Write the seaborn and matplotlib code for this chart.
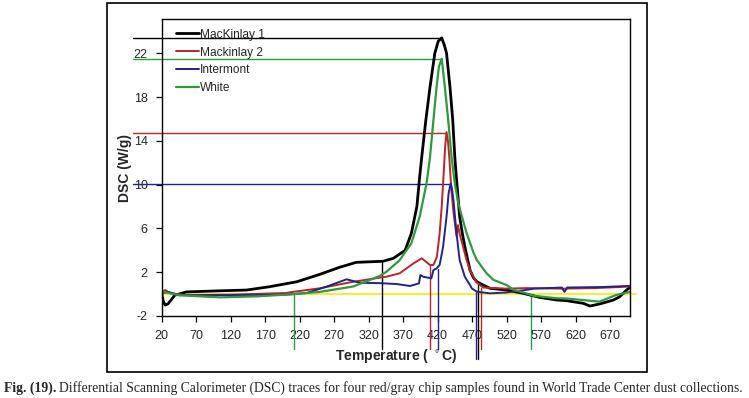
import matplotlib
matplotlib.use("Agg")
import matplotlib.pyplot as plt
import seaborn as sns
import pandas as pd
from matplotlib.patches import Rectangle

# data (temperature in C, heat flow in W/g)
mack1_t = [20, 22, 25, 29, 34, 39, 56, 104, 143, 177, 216, 249, 278, 302, 341, 356, 373,
           382, 390, 394, 397, 403, 409, 416, 421, 426, 430, 433, 438, 442, 445, 448,
           452, 456, 460, 467, 472, 477, 486, 496, 520, 544, 568, 593, 607, 631, 641,
           655, 675, 684, 694, 699]
mack1_v = [0.1, -0.6, -1.0, -0.9, -0.5, -0.1, 0.2, 0.3, 0.37, 0.68, 1.13, 1.8, 2.45, 2.9,
           3.0, 3.27, 4.0, 5.55, 8.0, 10.7, 12.5, 15.9, 18.9, 22.0, 23.1, 23.4, 22.7,
           22.0, 18.9, 15.9, 12.5, 10.1, 7.07, 5.5, 4.2, 2.2, 1.5, 1.13, 0.83, 0.53,
           0.37, 0.07, -0.3, -0.54, -0.6, -0.84, -1.09, -0.9, -0.54, -0.24, 0.37, 0.62]

mack2_t = [20, 25, 32, 56, 120, 200, 210, 249, 298, 336, 346, 365, 375, 385, 397, 409,
           414, 419, 423, 426, 428, 431, 433, 435, 437, 440, 443, 446, 447.5, 449.5, 452,
           457, 462, 467, 476, 486, 520, 550, 600, 650, 694, 699]
mack2_v = [0.2, 0.37, 0.1, -0.1, -0.05, 0.1, 0.2, 0.53, 1.13, 1.5, 1.59, 1.9, 2.35, 2.8,
           3.27, 2.66, 2.66, 3.4, 5.55, 8.0, 10.1, 13.5, 14.8, 14.0, 12.5, 9.5, 7.5, 6.0,
           5.3, 6.3, 5.5, 4.33, 3.1, 2.2, 1.1, 0.6, 0.5, 0.55, 0.5, 0.55, 0.68, 0.7]

inter_t = [20, 30, 45, 80, 150, 200, 230, 259, 288, 307, 336, 361, 380, 393, 395, 399,
           411, 414, 418.6, 423, 428, 433, 436, 439, 441, 443, 447.5, 452, 459.5, 467,
           470, 477, 496, 520, 545, 560, 600, 604, 608, 660, 699]
inter_v = [0.1, 0.2, -0.1, -0.1, -0.1, -0.05, 0.1, 0.68, 1.35, 1.04, 1.0, 0.92, 0.74,
           0.98, 1.74, 1.59, 1.44, 2.2, 2.35, 2.66, 4.33, 7.07, 9.2, 10.1, 9.6, 8.6,
           5.55, 3.1, 1.59, 0.83, 0.5, 0.22, 0.07, 0.15, 0.35, 0.5, 0.6, 0.2, 0.6, 0.65,
           0.75]

white_t = [20, 30, 45, 105, 160, 212, 249, 298, 336, 346, 365, 382, 394, 404, 409, 414,
           418.5, 422, 426, 430.6, 435.4, 440.3, 445, 450, 457, 462, 472, 477, 491, 501,
           520, 530, 544, 559, 593, 607, 655, 670, 679, 699]
white_v = [0.2, 0.1, -0.1, -0.3, -0.2, 0.0, 0.2, 0.7, 1.65, 2.05, 3.1, 4.64, 7.07, 10.1,
           12.5, 15.9, 18.9, 20.8, 21.5, 18.9, 15.9, 12.5, 10.1, 8.3, 6.7, 5.6, 3.8, 3.1,
           1.9, 1.3, 0.83, 0.4, 0.15, -0.15, -0.38, -0.4, -0.69, -0.3, -0.08, 0.2]

# marker lines drawn on the original (peak heights and onset/end temperatures)
peak_vals = [23.4, 21.45, 14.7, 10.1]
peak_ends = [426, 426, 432, 438]
peak_cols = ["black", "#2e9a3c", "#b8262a", "#22238c"]
onset_t = [212, 340, 409, 421, 476, 478, 483, 556]
onset_top = [0.0, 3.0, 2.66, 2.3, 0.2, 1.1, 0.6, 0.0]
onset_cols = ["#2e9a3c", "black", "#b8262a", "#22238c", "#22238c", "black", "#b8262a", "#2e9a3c"]

xticks = list(range(20, 700, 50))
yticks = [-2, 2, 6, 10, 14, 18, 22]

series = [("MacKinlay 1", mack1_t, mack1_v, "black", 2.0),
          ("Mackinlay 2", mack2_t, mack2_v, "#b8262a", 1.4),
          ("Intermont", inter_t, inter_v, "#22238c", 1.4),
          ("White", white_t, white_v, "#2e9a3c", 1.6)]

sns.set_style("white")
plt.rcParams["font.family"] = ["Liberation Sans", "DejaVu Sans"]
plt.rcParams["axes.unicode_minus"] = False
plt.rcParams["lines.solid_joinstyle"] = "round"

fig = plt.figure(figsize=(7.49, 3.98), dpi=100)
ax = fig.add_axes([161.7 / 749, (398 - 316) / 398, (630 - 161.7) / 749, (316 - 19.3) / 398])

for name, t, v, col, lw in series:
    df = pd.DataFrame({"T": t, "DSC": v})
    sns.lineplot(data=df, x="T", y="DSC", ax=ax, color=col, linewidth=lw,
                 label=name, sort=False, estimator=None)

ax.set_xlim(20, 699)
ax.set_ylim(-2, 25.1)

# yellow zero line
ax.plot([20, 708], [0, 0], color="#f2ee00", lw=1.2, clip_on=False, zorder=1)

# horizontal peak markers, extending left of the axes
for val, end, col in zip(peak_vals, peak_ends, peak_cols):
    ax.plot([-22, end], [val, val], color=col, lw=1.0, clip_on=False, zorder=1)

# vertical onset markers hanging below the axis
for t, top, col in zip(onset_t, onset_top, onset_cols):
    bottom = -5.9 if t in (476, 478) else -5.0
    ax.plot([t, t], [top, bottom], color=col, lw=1.0, clip_on=False, zorder=1)

ax.set_xticks(xticks)
ax.set_yticks(yticks)
ax.tick_params(direction="out", length=4, width=0.9, color="black", labelsize=9,
               bottom=True, left=True, pad=6)
for s in ax.spines.values():
    s.set_color("black")
    s.set_linewidth(1.0)

ax.set_xlabel("Temperature ( $^\\circ$C)", fontsize=10, fontweight="bold", labelpad=4)
ax.set_ylabel("DSC (W/g)", fontsize=10, fontweight="bold", labelpad=1)

leg = ax.legend(loc="upper left", bbox_to_anchor=(0.02, 0.985), frameon=False,
                fontsize=8.6, handlelength=1.9, handletextpad=0.15, labelspacing=0.5,
                borderaxespad=0)

# outer frame around the chart
fig.patches.append(Rectangle((107 / 749, (398 - 372) / 398), (647 - 107) / 749,
                             (372 - 2.7) / 398, transform=fig.transFigure,
                             fill=False, edgecolor="black", lw=1.2))

# caption
cap1 = fig.text(4 / 749, 1 - 388 / 398, "Fig. (19).", fontsize=9.85, fontweight="bold",
                family="Liberation Serif", va="center")
fig.canvas.draw()
bb = cap1.get_window_extent()
fig.text(bb.x1 / 749 + 3 / 749, 1 - 388 / 398,
         "Differential Scanning Calorimeter (DSC) traces for four red/gray chip samples "
         "found in World Trade Center dust collections.",
         fontsize=9.85, family="Liberation Serif", va="center")

fig.savefig("out.png", dpi=100)
